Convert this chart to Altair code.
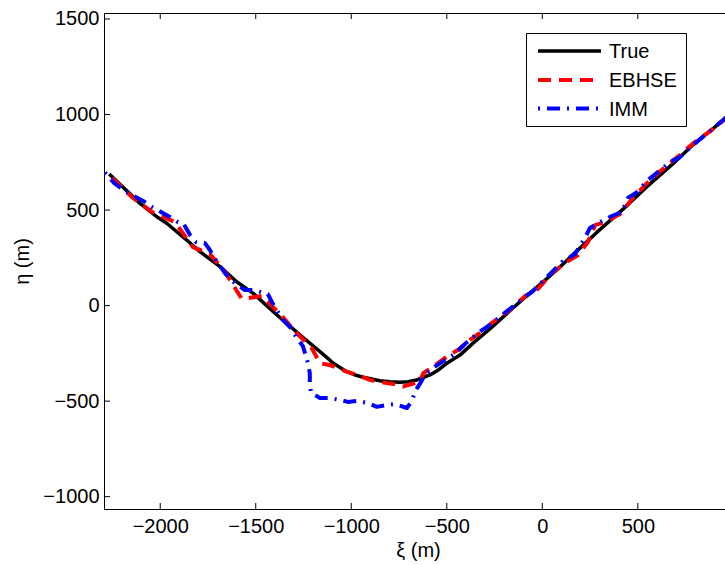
import altair as alt
import pandas as pd

# ---------------- data ----------------
true_xi = [-2267, -2106, -2018, -1966, -1861, -1792, -1687, -1600, -1513, -1408,
           -1338, -1268, -1164, -1130, -1094, -1024, -980, -937, -850, -798,
           -745, -703, -657, -622, -588, -544, -500, -466, -431, -361,
           -270, -186, -100, -12, 80, 162, 285, 424, 546, 686,
           790, 895, 1000]
true_eta = [689, 535, 465, 431, 343, 282, 204, 125, 64, -32,
            -93, -154, -241, -270, -302, -346, -363, -375, -393, -398,
            -401, -398, -389, -375, -363, -337, -302, -281, -259, -195,
            -118, -42, 35, 110, 190, 268, 383, 506, 621, 744,
            843, 928, 1015]

ebhse_xi = [-2252, -2148, -2043, -1923, -1829, -1740, -1667, -1573, -1468, -1364,
            -1291, -1228, -1207, -1164, -1112, -1024, -971, -902, -850, -771,
            -730, -641, -623, -571, -500, -442, -378, -326, -258, -169,
            -90, -23, 51, 119, 187, 239, 276, 328, 407, 474,
            548, 642, 720, 798, 887, 971, 1000]
ebhse_eta = [668, 568, 490, 437, 306, 270, 186, 35, 50, -54,
             -138, -201, -222, -302, -311, -346, -363, -389, -400, -412,
             -424, -398, -354, -320, -267, -232, -180, -143, -86, -23,
             50, 87, 171, 223, 265, 333, 421, 437, 479, 563,
             641, 725, 788, 856, 919, 987, 1010]

imm_xi = [-2289, -2242, -2185, -2080, -2043, -1949, -1907, -1880, -1844, -1813,
          -1767, -1740, -1709, -1662, -1625, -1557, -1510, -1437, -1416, -1358,
          -1321, -1285, -1253, -1227, -1217, -1217, -1211, -1164, -1112, -1059,
          -1018, -965, -913, -866, -814, -771, -709, -683, -662, -641,
          -615, -573, -510, -458, -405, -337, -274, -196, -117, -49,
          30, 103, 171, 223, 249, 301, 364, 416, 448, 490,
          553, 605, 668, 720, 783, 851, 909, 971, 1000]
imm_eta = [696, 642, 600, 542, 516, 464, 437, 432, 369, 333,
           328, 291, 239, 171, 129, 81, 81, 61, 19, -75,
           -112, -170, -212, -300, -353, -400, -457, -483, -483, -494,
           -504, -499, -510, -530, -520, -515, -536, -499, -442, -410,
           -363, -327, -285, -253, -201, -143, -101, -38, 24, 76,
           155, 228, 270, 354, 406, 437, 469, 490, 563, 589,
           657, 699, 751, 777, 835, 892, 939, 992, 1010]

x_ticks = [-2000, -1500, -1000, -500, 0, 500]
y_ticks = [-1000, -500, 0, 500, 1000, 1500]
legend_labels = ["True", "EBHSE", "IMM"]

# ---------------- layout / style ----------------
W, H = 621, 496
XD = [-2294.3, 956.3]
YD = [-1064.5, 1531.3]
FONT = "Liberation Sans"
FS = 20

xscale = alt.Scale(domain=XD, nice=False, zero=False)
yscale = alt.Scale(domain=YD, nice=False, zero=False)

x_axis = alt.Axis(values=x_ticks, format="d", grid=False, ticks=False, tickSize=0,
                  labelPadding=7, labelFont=FONT, labelFontSize=FS, labelColor="black",
                  domain=True, domainColor="black", domainWidth=1,
                  title="ξ (m)", titleFont=FONT, titleFontSize=FS, titleFontWeight="normal",
                  titleColor="black", titleX=314, titleY=47, titleBaseline="alphabetic",
                  titleAlign="center")
y_axis = alt.Axis(values=y_ticks, format="d", grid=False, ticks=False, tickSize=0,
                  labelPadding=5, labelFont=FONT, labelFontSize=FS, labelColor="black",
                  domain=True, domainColor="black", domainWidth=1,
                  title="η (m)", titleFont=FONT, titleFontSize=FS, titleFontWeight="normal",
                  titleColor="black", titleAngle=270, titleX=-75.5, titleY=248,
                  titleBaseline="alphabetic", titleAlign="center")


def X(field):
    return alt.X(field, scale=xscale, axis=x_axis, title="ξ (m)")


def Y(field):
    return alt.Y(field, scale=yscale, axis=y_axis, title="η (m)")


def line_df(xs, ys):
    return pd.DataFrame({"xi": xs, "eta": ys, "i": list(range(len(xs)))})


def series(xs, ys, color, width, dash=None, dash_offset=0):
    kw = dict(color=color, strokeWidth=width, clip=True, strokeCap="butt",
              strokeJoin="round")
    if dash is not None:
        kw["strokeDash"] = dash
        kw["strokeDashOffset"] = dash_offset
    return alt.Chart(line_df(xs, ys)).mark_line(**kw).encode(
        x=X("xi:Q"), y=Y("eta:Q"), order="i:Q")


true_layer = series(true_xi, true_eta, "#000000", 3.5)
ebhse_layer = series(ebhse_xi, ebhse_eta, "#ff0000", 4, dash=[13, 8])
imm_layer = series(imm_xi, imm_eta, "#0000ff", 4, dash=[13, 7, 2, 7], dash_offset=20)

# inward tick marks (MATLAB style) and top border
xt = pd.DataFrame({"xi": x_ticks})
yt = pd.DataFrame({"eta": y_ticks})
bottom_ticks = alt.Chart(xt).mark_rule(color="black", strokeWidth=1).encode(
    x=X("xi:Q"), y=alt.value(H), y2=alt.value(H - 6))
top_ticks = alt.Chart(xt).mark_rule(color="black", strokeWidth=1).encode(
    x=X("xi:Q"), y=alt.value(0), y2=alt.value(6))
left_ticks = alt.Chart(yt).mark_rule(color="black", strokeWidth=1).encode(
    y=Y("eta:Q"), x=alt.value(0), x2=alt.value(6))
top_border = alt.Chart(pd.DataFrame({"k": [0]})).mark_rule(color="black", strokeWidth=1).encode(
    x=alt.value(0), x2=alt.value(W), y=alt.value(0.5))

# legend (boxed, MATLAB style)
legend_box = alt.Chart(pd.DataFrame({"k": [0]})).mark_rect(
    fill="white", stroke="black", strokeWidth=1).encode(
    x=alt.value(422.5), x2=alt.value(582.5), y=alt.value(20.5), y2=alt.value(113.5))

leg_styles = [
    dict(color="#000000", strokeWidth=3.5),
    dict(color="#ff0000", strokeWidth=4, strokeDash=[13, 8]),
    dict(color="#0000ff", strokeWidth=4, strokeDash=[13, 7, 2, 7], strokeDashOffset=20),
]
leg_y = [38, 67, 95.5]
legend_layers = []
for lab, sty, yy in zip(legend_labels, leg_styles, leg_y):
    d = pd.DataFrame({"label": [lab]})
    legend_layers.append(
        alt.Chart(d).mark_rule(strokeCap="butt", **sty).encode(
            x=alt.value(434), x2=alt.value(497), y=alt.value(yy)))
    legend_layers.append(
        alt.Chart(d).mark_text(align="left", baseline="middle", font=FONT, fontSize=FS,
                               color="black").encode(
            x=alt.value(505), y=alt.value(yy + 1), text="label:N"))

chart = alt.layer(
    true_layer, ebhse_layer, imm_layer,
    bottom_ticks, top_ticks, left_ticks, top_border,
    legend_box, *legend_layers,
).properties(
    width=W, height=H, autosize="none",
    padding={"left": 104, "top": 13, "right": 0, "bottom": 54},
    background="white",
).configure_view(strokeWidth=0)

chart.save("out.html", embed_options={"renderer": "svg", "actions": False})
